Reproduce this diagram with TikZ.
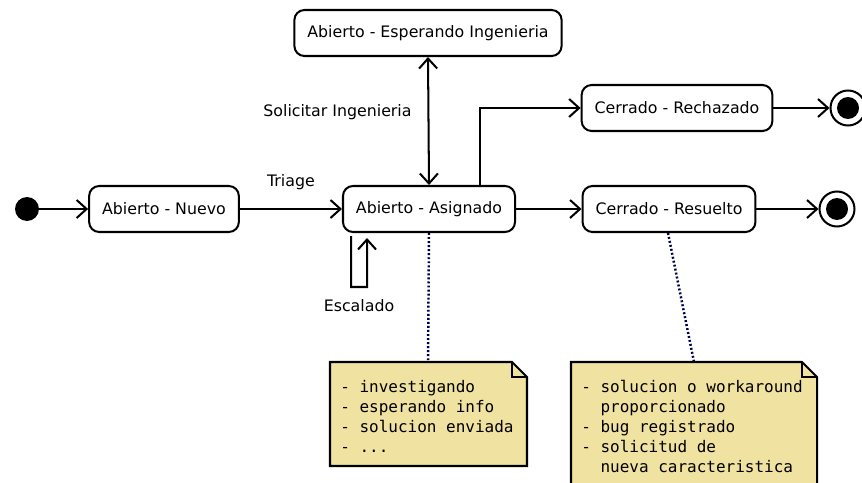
\documentclass[tikz,border=0pt]{standalone}
\usepackage{fontspec}
\setsansfont{DejaVu Sans}
\newfontfamily\notefont{DejaVu Sans Mono}[WordSpace={1,0,0}]
\usetikzlibrary{arrows.meta,calc}
\definecolor{notefill}{RGB}{240,226,160}
\definecolor{notelink}{RGB}{0,0,70}
\tikzset{
  state/.style={draw,rounded corners=0.2cm,line width=1.15pt,fill=white,
    inner xsep=0.26cm,minimum height=0.92cm,font=\sffamily\fontsize{9}{11}\selectfont},
  lbl/.style={font=\sffamily\fontsize{9}{11}\selectfont},
  notetext/.style={align=left,inner xsep=0.2cm,
    font=\notefont\fontsize{9.1}{11.4}\selectfont},
  notebox/.style={draw,line width=1.15pt,fill=notefill},
  arr/.style={line width=1.15pt,-{Straight Barb[length=2mm,width=3.6mm]}},
  link/.style={notelink,line width=1.4pt,dash pattern=on 1.1pt off 1.2pt}
}
\begin{document}
\begin{tikzpicture}[x=0.02cm,y=-0.02cm]
    \useasboundingbox (0,0) rectangle (862,483);
    \clip (0,0) rectangle (862,483);
    \node[circle,fill,minimum size=0.48cm,inner sep=0] (ini) at (27,209) {};
    \node[state] (nuevo) at (164,209) {Abierto - Nuevo};
    \node[state] (asignado) at (429,209) {Abierto - Asignado};
    \node[state] (esperando) at (428,33) {Abierto - Esperando Ingenieria};
    \node[state] (rechazado) at (677,108) {Cerrado - Rechazado};
    \node[state] (resuelto) at (669,209) {Cerrado - Resuelto};
    \node[circle,draw,line width=1.15pt,minimum size=0.7cm,inner sep=0] (fin1) at (848,108) {};
    \fill (fin1) circle (0.22cm);
    \node[circle,draw,line width=1.15pt,minimum size=0.7cm,inner sep=0] (fin2) at (837,209) {};
    \fill (fin2) circle (0.22cm);
    \path (330,362) coordinate (n1nw) (527,466) coordinate (n1se)
          (571,362) coordinate (n2nw) (817,500) coordinate (n2se);
    \draw[link] (asignado.south) -- (428,362);
    \draw[link] ([xshift=-0.02cm]resuelto.south) -- (694,362);
    \foreach \a/\b in {n1nw/n1se,n2nw/n2se}{
      \draw[notebox] (\a |- \b) -- (\a) -- ([xshift=-0.3cm]\b |- \a)
        -- ([yshift=-0.3cm]\b |- \a) -- (\b) -- cycle;
      \draw[line width=0.8pt] ([xshift=-0.3cm]\b |- \a) |- ([yshift=-0.3cm]\b |- \a);
    }
    \node[notetext,anchor=north west,inner ysep=0.36cm] (nota1) at (n1nw)
      {- investigando\\- esperando info\\- solucion enviada\\- ...};
    \node[notetext,anchor=north west,inner ysep=0.36cm] (nota2) at (n2nw)
      {- solucion o workaround\\\hphantom{- }proporcionado\\- bug registrado\\- solicitud de\\\hphantom{- }nueva caracteristica};
    \draw[arr] (ini) -- (nuevo);
    \draw[arr] (nuevo) -- node[lbl,midway,yshift=0.54cm] (triage) {Triage} (asignado);
    \draw[arr,{Straight Barb[length=2mm,width=3.6mm]}-{Straight Barb[length=2mm,width=3.6mm]}]
      (asignado.north) -- node[lbl,pos=0.57,left=0.2cm] (solicitar) {Solicitar Ingenieria} (esperando.south);
    \draw[arr] ([xshift=1.02cm]asignado.north) |- (rechazado);
    \draw[arr] (asignado) -- (resuelto);
    \draw[arr] (rechazado) -- (fin1);
    \draw[arr] (resuelto) -- (fin2);
    \draw[arr] ([xshift=-1.56cm,yshift=-0.06cm]asignado.south) -- ++(0,51)
      -- ++(16,0) node[lbl,pos=0.5,below=0.12cm] (escalado) {Escalado}
      -- ([xshift=-1.24cm,yshift=-0.1cm]asignado.south);
\end{tikzpicture}
\end{document}
